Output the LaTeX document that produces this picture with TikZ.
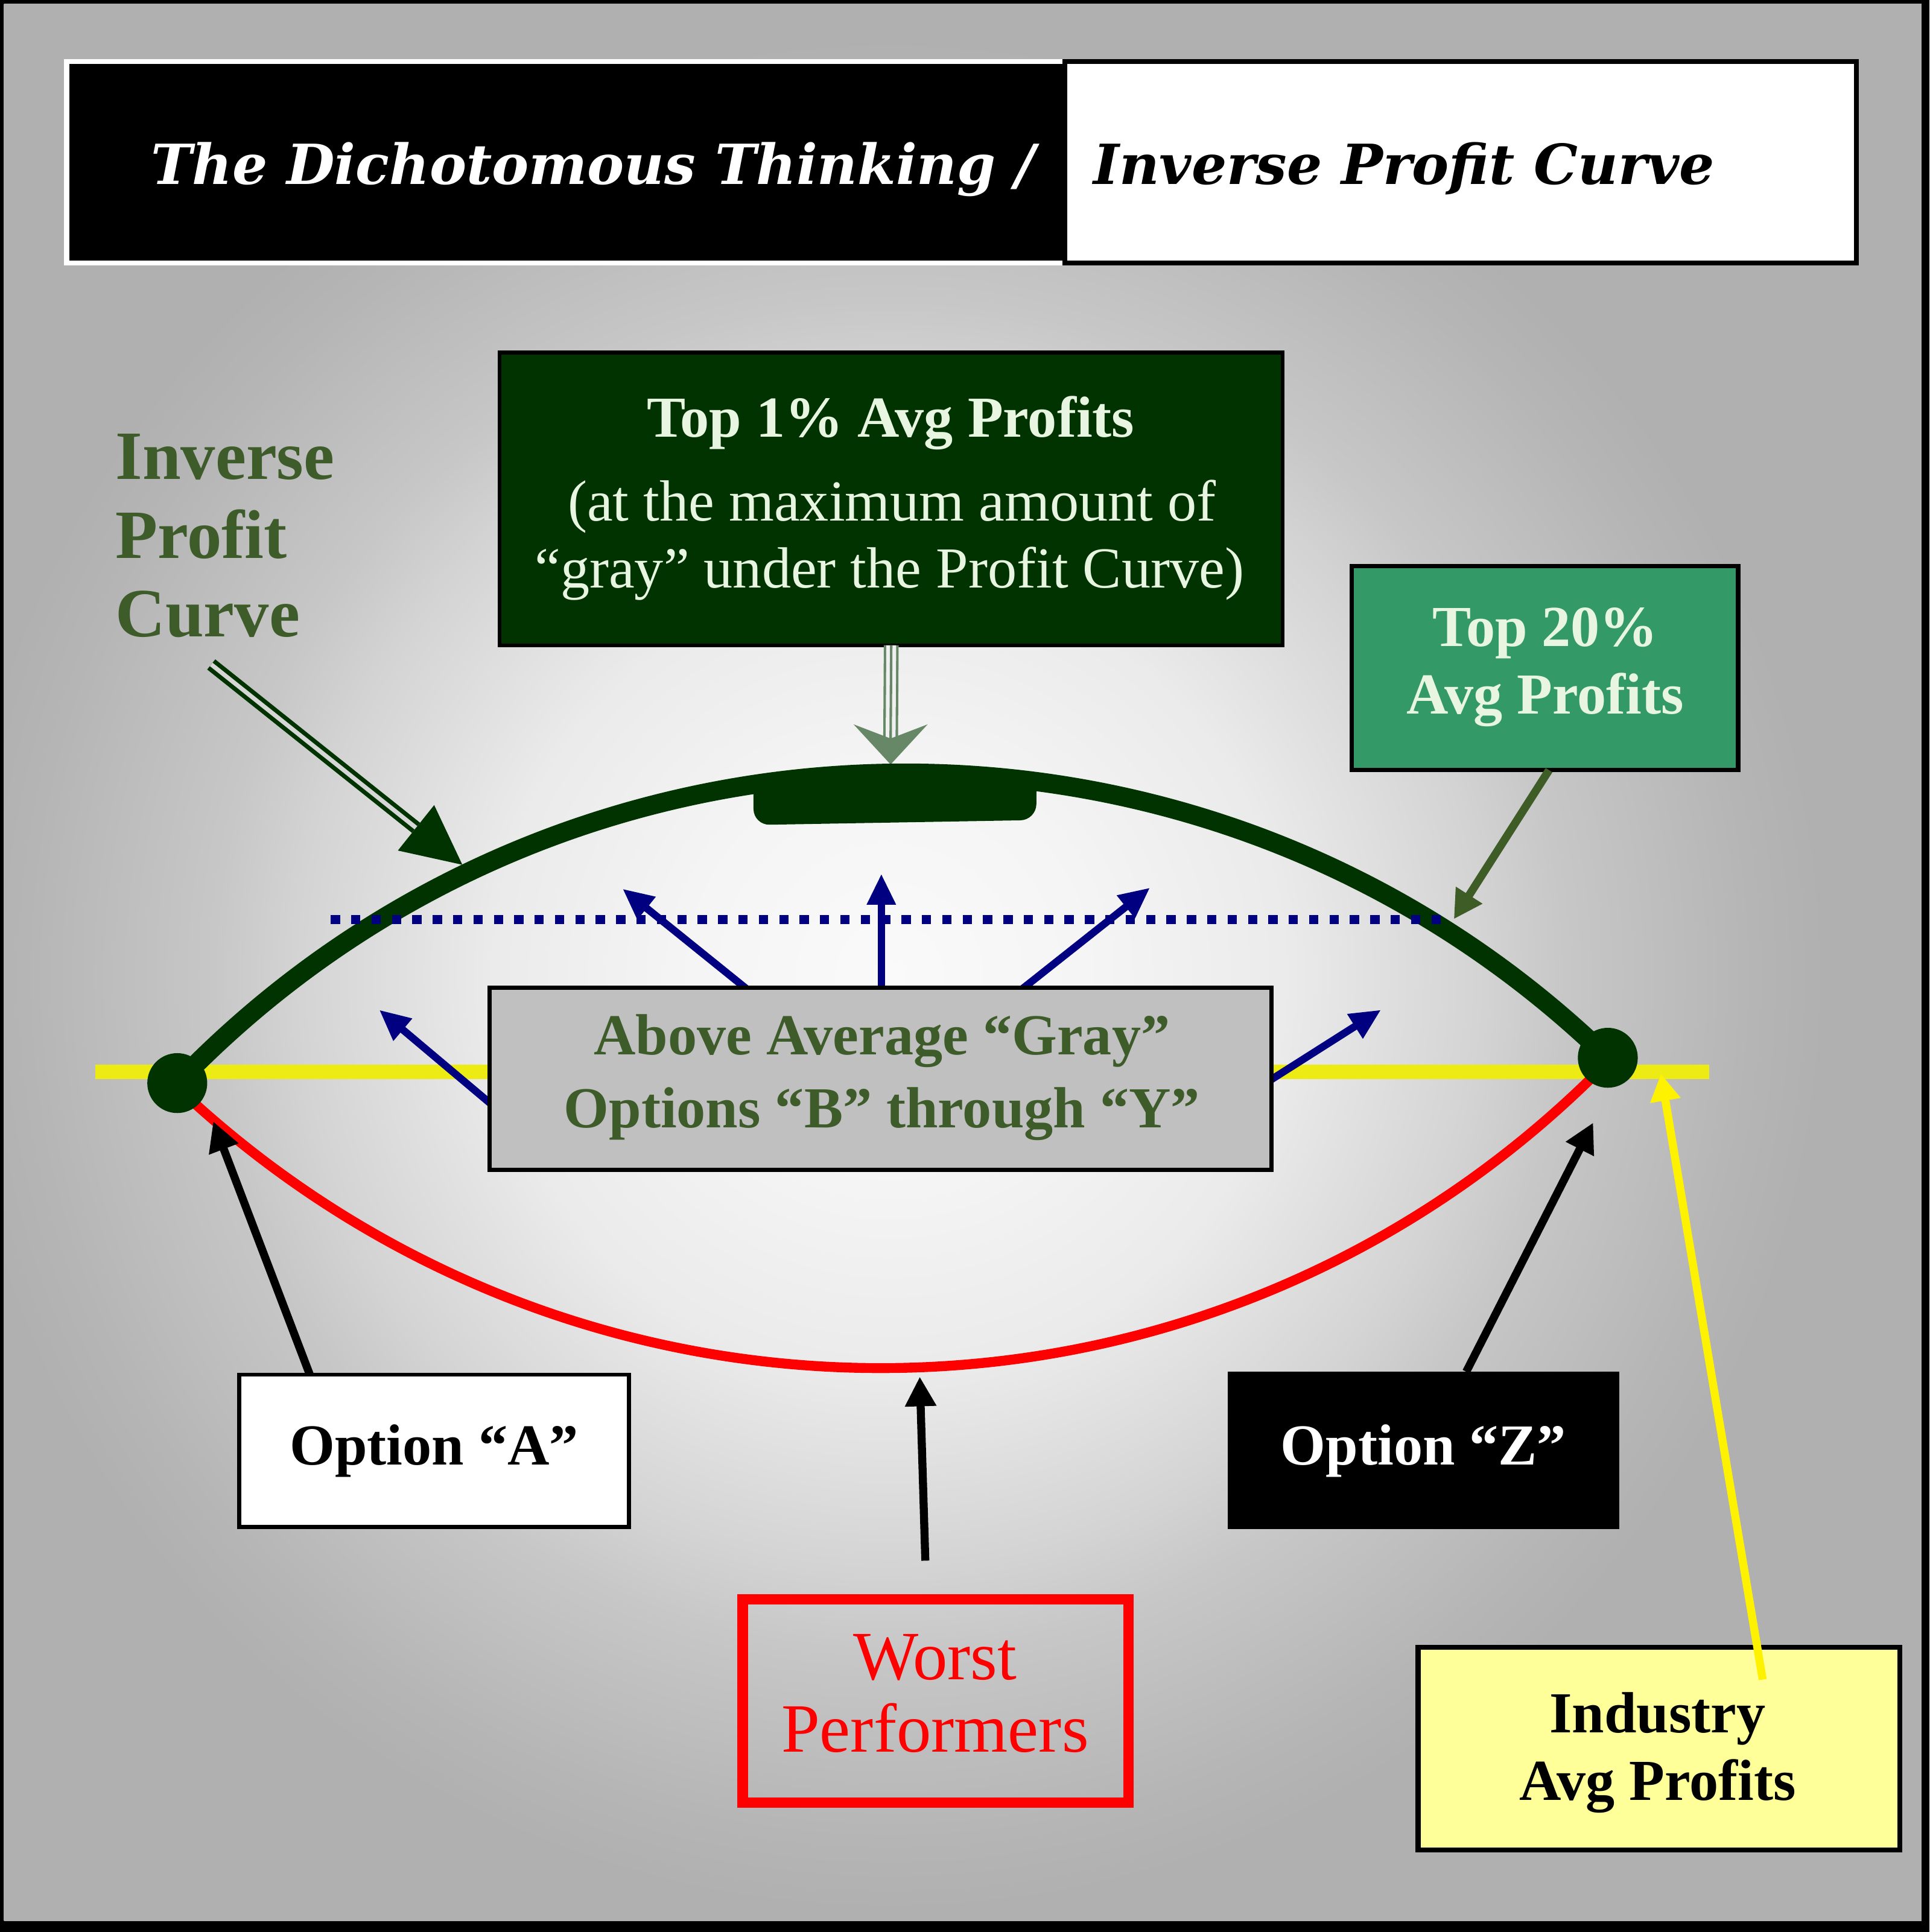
\documentclass[tikz,border=0pt]{standalone}
\usepackage{fontspec}
\usepackage{graphicx}
\setmainfont{Liberation Serif}
\newfontfamily\titlefont{DejaVu Serif}
\usetikzlibrary{arrows.meta}
\definecolor{dkgreen}{RGB}{0,51,0}
\definecolor{olivetxt}{RGB}{62,92,42}
\definecolor{paletxt}{RGB}{232,245,224}
\definecolor{midgreen}{RGB}{51,153,102}
\definecolor{boxgray}{RGB}{192,192,192}
\definecolor{navyb}{RGB}{0,0,128}
\definecolor{arrowgg}{RGB}{102,136,102}
\definecolor{paleyel}{RGB}{255,255,153}
\definecolor{bandyel}{RGB}{236,236,20}
\definecolor{arrowol}{RGB}{61,92,38}
\colorlet{bgA}{white!98!black}
\colorlet{bgB}{white!96!black}
\colorlet{bgC}{white!92!black}
\colorlet{bgD}{white!83!black}
\colorlet{bgE}{white!78!black}
\colorlet{bgF}{white!71!black}
\colorlet{bgG}{white!69!black}
\colorlet{gapcol}{white!94!black}
\pgfdeclareradialshading{bgglow}{\pgfpoint{0bp}{0bp}}{%
 color(0bp)=(bgA); color(3.5bp)=(bgB); color(7bp)=(bgC);
 color(10.4bp)=(bgD); color(11.9bp)=(bgE); color(15.2bp)=(bgF); color(16.5bp)=(bgG); color(50bp)=(bgG)}
\newcommand\fsA{\fontsize{47}{55}\selectfont}
\newcommand\fsB{\fontsize{56}{64}\selectfont}
\begin{document}
\begin{tikzpicture}[x=1pt,y=-1pt,
  boxnode/.style={inner sep=0pt, outer sep=0pt},
  txt/.style={inner sep=0pt, anchor=base},
  boldA/.style={txt, font=\bfseries\fsA},
  barrow/.style={navyb, line width=6pt, -{Triangle[length=25pt,width=22pt]}},
  karrow/.style={black, line width=6.5pt, -{Triangle[length=24pt,width=24pt]}},
  dotnode/.style={circle, fill=dkgreen, minimum size=48.5pt, inner sep=0pt}]
\useasboundingbox (0,0) rectangle (1562,1564.4);
\fill[black] (0,0) rectangle (1562,1564.4);
\begin{scope}
\clip (3.2,3.3) rectangle (1555.5,1555.5);
\shade[shading=bgglow] (720,790) circle[radius=1150pt];
\end{scope}

% title
\node[boxnode, draw=white, fill=black, line width=4pt, minimum width=808pt, minimum height=163pt] (tleft) at (458,131.5) {};
\node[boxnode, draw=black, fill=white, line width=4pt, minimum width=641pt, minimum height=163pt] (tright) at (1182.5,131.5) {};
\node[inner sep=0pt, anchor=base west, text=white, font=\titlefont\bfseries\itshape\fontsize{48}{56}\selectfont] (ttl1) at (122,149) {\resizebox{716pt}{!}{The Dichotomous Thinking /}};
\node[inner sep=0pt, anchor=base west, text=black, font=\titlefont\bfseries\itshape\fontsize{48}{56}\selectfont] (ttl2) at (885,149) {\resizebox{503pt}{!}{Inverse Profit Curve}};

% top 1% box
\node[boxnode, draw=black, fill=dkgreen, line width=3pt, minimum width=634pt, minimum height=237pt] (top1) at (721.5,404) {};
\node[boldA, text=paletxt] (top1a) at (721,354) {Top 1\% Avg Profits};
\node[txt, text=paletxt, font=\fsA] (top1b) at (722,421.6) {(at the maximum amount of};
\node[txt, text=paletxt, font=\fsA] (top1c) at (720,476) {“gray” under the Profit Curve)};
\coordinate (t1tip) at (721,619);
\coordinate (t1back) at (721,598);
\draw[arrowgg, line width=12pt] (top1.south) -- (t1back);
\draw[gapcol, line width=8pt] (top1.south) -- (t1back);
\draw[arrowgg, line width=2pt] (top1.south) -- (t1back);
\fill[arrowgg] (691,586.5) -- (t1tip) -- (751,586.5) -- (t1back) -- cycle;

% left label
\node[inner sep=0pt, anchor=base west, text=olivetxt, font=\bfseries\fsB] (inv1) at (93.3,387.8) {Inverse};
\node[inner sep=0pt, anchor=base west, text=olivetxt, font=\bfseries\fsB] (inv2) at (93.3,452) {Profit};
\node[inner sep=0pt, anchor=base west, text=olivetxt, font=\bfseries\fsB] (inv3) at (93.3,515.3) {Curve};
\coordinate (invs) at (171,538);
\coordinate (invback) at (336.8,670.3);
\coordinate (invtip) at (374.3,700.2);
\draw[dkgreen, line width=3.5pt, double=black!16, double distance=3.5pt] (invs) -- (invback);
\fill[dkgreen] (invtip) -- (322.1,688.7) -- (351.5,651.9) -- cycle;

% top 20% box
\node[boxnode, draw=black, fill=midgreen, line width=3.6pt, minimum width=312.9pt, minimum height=165.2pt] (top20) at (1250.75,541) {};
\node[boldA, text=paletxt] (top20a) at (1251,523.5) {Top 20\%};
\node[boldA, text=paletxt] (top20b) at (1251,578) {Avg Profits};

% yellow band
\fill[bandyel] (77,862) rectangle (1383.7,874);

% red curve
\draw[red, line width=8pt] (156,892) .. controls (481,1187) and (975.2,1178) .. (1287,874.3);

% green curve
\coordinate (pA) at (143.5,877);
\coordinate (pZ) at (1301.6,856.5);
\draw[dkgreen, line width=15.5pt] (pA) .. controls (457.1,550.5) and (976.7,541.3) .. (pZ);
\fill[dkgreen, rounded corners=13pt] (610,630) -- (610,668) -- (839,664) -- (839,627) -- cycle;
\node[dotnode] (dotA) at (pA) {};
\node[dotnode] (dotZ) at (pZ) {};

% top 20 arrow
\coordinate (t20tip) at (1177,744.2);
\draw[arrowol, line width=6.5pt, -{Triangle[length=23pt,width=24pt]}] ([xshift=3.25pt]top20.south) -- (t20tip);

% dotted line
\draw[navyb, line width=7.5pt, dash pattern=on 7.5pt off 9pt] (267.8,744.7) -- (1173,744.7);

% blue arrows
\coordinate (b1s) at (397,893.5); \coordinate (b1t) at (307,817.7);
\coordinate (b2s) at (606,802); \coordinate (b2t) at (504,719.7);
\coordinate (b3s) at (713.5,801); \coordinate (b3t) at (713.5,707.5);
\coordinate (b4s) at (826,802); \coordinate (b4t) at (931,718.8);
\coordinate (b5s) at (1027,875.5); \coordinate (b5t) at (1118,817.7);
\draw[barrow] (b1s) -- (b1t);
\draw[barrow] (b2s) -- (b2t);
\draw[barrow] (b3s) -- (b3t);
\draw[barrow] (b4s) -- (b4t);
\draw[barrow] (b5s) -- (b5t);

% central gray box
\node[boxnode, draw=black, fill=boxgray, line width=3.5pt, minimum width=632.8pt, minimum height=147.6pt] (gray) at (712.8,873.4) {};
\node[boldA, text=olivetxt] (gray1) at (714,854) {Above Average “Gray”};
\node[boldA, text=olivetxt] (gray2) at (714,913.3) {Options “B” through “Y”};

% option A
\node[boxnode, draw=black, fill=white, line width=3.3pt, minimum width=315.5pt, minimum height=123.5pt] (optA) at (351.4,1174.8) {};
\node[boldA, text=black] (optAt) at (351.4,1186) {Option “A”};
\coordinate (aTip) at (172.6,908);
\draw[karrow] ([xshift=-100.6pt]optA.north) -- (aTip);

% option Z
\node[boxnode, fill=black, minimum width=317.2pt, minimum height=127.5pt] (optZ) at (1152.4,1174.45) {};
\node[boldA, text=white] (optZt) at (1152.4,1186) {Option “Z”};
\coordinate (zTip) at (1289.8,909);
\draw[karrow] ([xshift=34.6pt]optZ.north) -- (zTip);

% worst performers
\node[boxnode, draw=red, line width=8.5pt, minimum width=312.2pt, minimum height=164.6pt] (worst) at (757.35,1377.45) {};
\node[txt, text=red, font=\fsB] (worst1) at (757,1359.8) {Worst};
\node[txt, text=red, font=\fsB] (worst2) at (757,1418.5) {Performers};
\coordinate (wTail) at (749.1,1263.7);
\coordinate (wTip) at (744.6,1114.7);
\draw[karrow] (wTail) -- (wTip);

% industry avg
\node[boxnode, draw=black, fill=paleyel, line width=4pt, minimum width=390.2pt, minimum height=163.8pt] (ind) at (1343.1,1415.9) {};
\node[boldA, text=black] (ind1) at (1342,1402.8) {Industry};
\node[boldA, text=black] (ind2) at (1342,1457.5) {Avg Profits};
\coordinate (iTail) at (1427,1360);
\coordinate (iTip) at (1344.6,869.4);
\draw[yellow, line width=6.5pt, -{Triangle[length=22pt,width=23.5pt]}] (iTail) -- (iTip);
\end{tikzpicture}
\end{document}
